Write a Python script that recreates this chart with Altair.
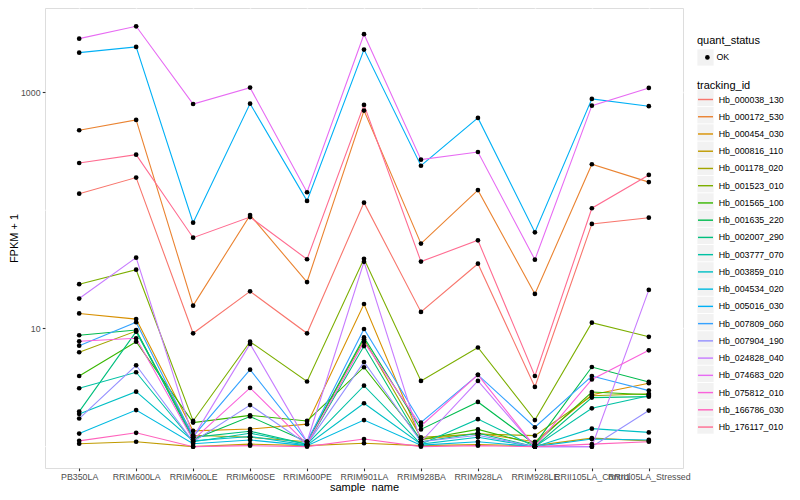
import altair as alt
import pandas as pd

samples = ["PB350LA", "RRIM600LA", "RRIM600LE", "RRIM600SE", "RRIM600PE", "RRIM901LA",
           "RRIM928BA", "RRIM928LA", "RRIM928LE", "RRII105LA_Control", "RRII105LA_Stressed"]

tracking_ids = ["Hb_000038_130", "Hb_000172_530", "Hb_000454_030", "Hb_000816_110", "Hb_001178_020",
                "Hb_001523_010", "Hb_001565_100", "Hb_001635_220", "Hb_002007_290", "Hb_003777_070",
                "Hb_003859_010", "Hb_004534_020", "Hb_005016_030", "Hb_007809_060", "Hb_007904_190",
                "Hb_024828_040", "Hb_074683_020", "Hb_075812_010", "Hb_166786_030", "Hb_176117_010"]

palette = ["#F8766D", "#EA8331", "#D89000", "#C09B00", "#A3A500", "#7CAE00", "#39B600", "#00BB4E",
           "#00BF7D", "#00C1A3", "#00BFC4", "#00BAE0", "#00B0F6", "#35A2FF", "#9590FF", "#C77CFF",
           "#E76BF3", "#FA62DB", "#FF62BC", "#FF6C91"]

# FPKM + 1 per sample (order of `samples`)
hb_000038_130 = [138, 189, 9.1, 20.6, 9.1, 116, 13.8, 35.3, 3.2, 76.6, 86.5]
hb_000172_530 = [475, 581, 15.6, 91, 24.7, 697, 52.2, 148, 19.6, 245, 173]
hb_000454_030 = [13.4, 12.0, 1.36, 1.41, 1.55, 16.1, 1.15, 1.3, 1.1, 2.75, 3.44]
hb_000816_110 = [1.06, 1.10, 1.0, 1.05, 1.02, 1.07, 1.02, 1.04, 1.02, 1.18, 1.12]
hb_001178_020 = [6.29, 9.5, 1.25, 1.2, 1.1, 8.1, 1.2, 1.28, 1.24, 2.7, 2.8]
hb_001523_010 = [23.7, 31.4, 1.65, 7.73, 3.56, 38.9, 3.6, 6.9, 1.68, 11.2, 8.5]
hb_001565_100 = [3.96, 7.73, 1.6, 1.84, 1.65, 4.7, 1.15, 1.4, 1.05, 2.9, 2.75]
hb_001635_220 = [8.76, 9.71, 1.15, 1.8, 1.1, 8.4, 1.4, 2.39, 1.05, 4.72, 3.53]
hb_002007_290 = [1.98, 9.4, 1.2, 1.35, 1.05, 7.1, 1.1, 1.3, 1.0, 2.6, 2.65]
hb_003777_070 = [3.12, 4.26, 1.1, 1.3, 1.05, 3.28, 1.05, 1.71, 1.0, 2.11, 2.7]
hb_003859_010 = [1.89, 2.92, 1.12, 1.22, 1.03, 2.33, 1.05, 1.2, 1.0, 1.42, 1.32]
hb_004534_020 = [1.29, 2.04, 1.06, 1.14, 1.02, 1.68, 1.03, 1.1, 1.0, 1.16, 1.14]
hb_005016_030 = [2155, 2410, 78.5, 798, 120, 2285, 238, 604, 65.1, 875, 759]
hb_007809_060 = [7.15, 11.3, 1.22, 4.48, 1.1, 9.9, 1.6, 4.05, 1.46, 3.96, 2.98]
hb_007904_190 = [1.73, 4.88, 1.1, 2.25, 1.05, 5.2, 1.1, 1.25, 1.0, 1.0, 2.02]
hb_024828_040 = [17.9, 39.7, 1.2, 7.4, 1.1, 36.6, 1.1, 3.6, 1.0, 1.0, 21.2]
hb_074683_020 = [2830, 3600, 792, 1090, 142, 3085, 268, 311, 38.2, 767, 1083]
hb_075812_010 = [7.79, 8.26, 1.14, 3.14, 1.05, 7.7, 1.5, 4.05, 1.0, 3.7, 6.53]
hb_166786_030 = [1.12, 1.31, 1.0, 1.02, 1.0, 1.16, 1.0, 1.02, 1.0, 1.05, 1.1]
hb_176117_010 = [251, 295, 58.6, 87.5, 38.5, 778, 36.8, 55.7, 3.96, 104, 199]

series_values = [hb_000038_130, hb_000172_530, hb_000454_030, hb_000816_110, hb_001178_020,
                 hb_001523_010, hb_001565_100, hb_001635_220, hb_002007_290, hb_003777_070,
                 hb_003859_010, hb_004534_020, hb_005016_030, hb_007809_060, hb_007904_190,
                 hb_024828_040, hb_074683_020, hb_075812_010, hb_166786_030, hb_176117_010]

quant_levels = ["OK"]
major_breaks = [10, 1000]
minor_breaks = [1, 100]

rows = []
for tid, vals in zip(tracking_ids, series_values):
    for i, (s, v) in enumerate(zip(samples, vals)):
        rows.append({"sample_name": s, "idx": i, "tracking_id": tid, "fpkm1": v, "quant_status": "OK"})
df = pd.DataFrame(rows)
minor_df = pd.DataFrame({"fpkm1": minor_breaks})
keys_df = pd.DataFrame({"key_id": tracking_ids})
qkeys_df = pd.DataFrame({"key_q": quant_levels})

FONT = "Liberation Sans"
KEY_BG = "#F2F2F2"

yscale = alt.Scale(type="log", domain=[0.66, 5140], nice=False)
yaxis = alt.Axis(values=major_breaks, format="d", title="FPKM + 1", grid=True, gridColor="white",
                 gridWidth=1.42, domain=False, tickColor="#333333", tickSize=2.75, tickWidth=1.1,
                 labelColor="#4D4D4D", labelFontSize=8.8, labelPadding=2.2, labelFont=FONT,
                 titleFont=FONT, titleFontSize=11, titleFontWeight="normal", titleColor="black",
                 titlePadding=1)
yenc = alt.Y("fpkm1:Q", scale=yscale, axis=yaxis)

xenc = alt.X("sample_name:N", sort=samples, scale=alt.Scale(padding=0.6),
             axis=alt.Axis(title="sample_name", labelAngle=0, labelOverlap=False, labelLimit=300,
                           grid=True, gridColor="white", gridWidth=1.42, domain=False,
                           tickColor="#333333", tickSize=2.75, tickWidth=1.1,
                           labelColor="#4D4D4D", labelFontSize=8.8, labelPadding=1.5, labelFont=FONT,
                           titleFont=FONT, titleFontSize=11, titleFontWeight="normal",
                           titleColor="black", titlePadding=0))

legend_text = dict(titleFont=FONT, titleFontSize=11, titleFontWeight="normal", titleColor="black",
                   labelFont=FONT, labelFontSize=8.8, labelColor="black")

minor = alt.Chart(minor_df).mark_rule(color="white", strokeWidth=0.71).encode(y=yenc)

# legend key backgrounds (grey boxes behind legend keys); these layers draw no marks
key_bg = alt.Chart(keys_df).mark_square().encode(
    fill=alt.Fill("key_id:N", scale=alt.Scale(domain=tracking_ids, range=[KEY_BG]),
                  legend=alt.Legend(title=" ", orient="none", legendX=652, legendY=70.5,
                                    symbolType="square", symbolSize=265, symbolStrokeWidth=0,
                                    symbolFillColor=KEY_BG, symbolOpacity=1, rowPadding=0.24,
                                    titlePadding=0, labelExpr="''", zindex=0,
                                    **legend_text)),
).transform_filter("false")

key_bg_q = alt.Chart(qkeys_df).mark_square().encode(
    fill=alt.Fill("key_q:N", scale=alt.Scale(domain=quant_levels, range=[KEY_BG]),
                  legend=alt.Legend(title=" ", orient="none", legendX=652, legendY=27,
                                    symbolType="square", symbolSize=265, symbolStrokeWidth=0,
                                    symbolFillColor=KEY_BG, symbolOpacity=1,
                                    titlePadding=3, labelExpr="''", zindex=0,
                                    **legend_text)),
).transform_filter("false")

lines = alt.Chart(df).mark_line(strokeWidth=1.1).encode(
    x=xenc, y=yenc,
    order=alt.Order("idx:Q"),
    color=alt.Color("tracking_id:N", scale=alt.Scale(domain=tracking_ids, range=palette),
                    legend=alt.Legend(title="tracking_id", orient="none", legendX=652, legendY=72,
                                      symbolType="stroke", symbolSize=225, symbolStrokeWidth=1.42,
                                      rowPadding=3.24, labelOffset=4.7, titlePadding=0,
                                      symbolOpacity=1, zindex=1, **legend_text)),
)

points = alt.Chart(df).mark_point(filled=True, size=22, color="black", opacity=1).encode(
    x=xenc, y=yenc,
    shape=alt.Shape("quant_status:N", scale=alt.Scale(domain=quant_levels, range=["circle"]),
                    legend=alt.Legend(title="quant_status", orient="none", legendX=652, legendY=27,
                                      symbolFillColor="black", symbolStrokeWidth=0, symbolSize=22,
                                      symbolOffset=6, labelOffset=4.7, titlePadding=7, zindex=1,
                                      **legend_text)),
)

chart = alt.layer(minor, key_bg, key_bg_q, lines, points).properties(
    width=638, height=460,
    autosize=alt.AutoSizeParams(type="none"),
    padding={"left": 37, "top": 0, "right": 109, "bottom": 24},
).resolve_scale(fill="independent").configure_view(fill="#EBEBEB", stroke=None).configure(background="white")

chart.save("out.html", embed_options={"renderer": "svg", "actions": False})
